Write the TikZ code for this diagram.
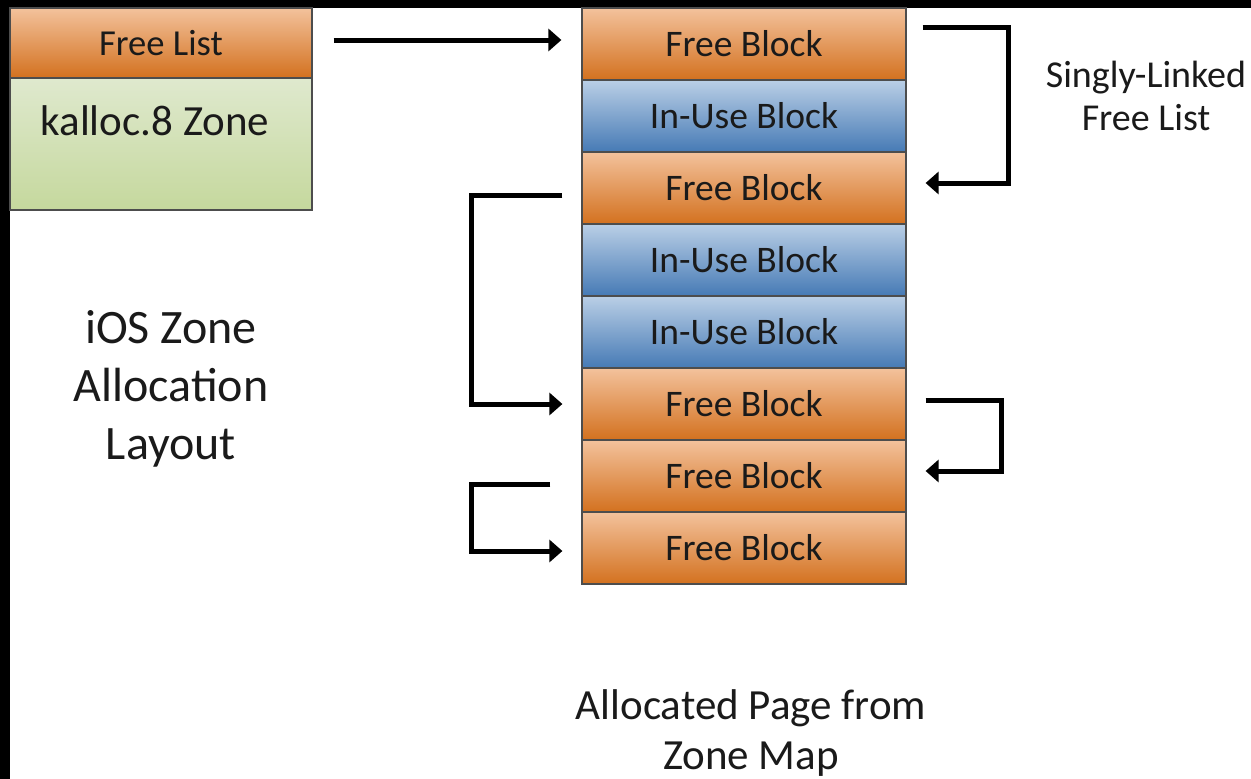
\documentclass[tikz,border=0pt]{standalone}
\usepackage{fontspec}
\setmainfont{Carlito}
\usetikzlibrary{arrows.meta,calc}
\definecolor{orTop}{HTML}{F3C29C}
\definecolor{orBot}{HTML}{D3711F}
\definecolor{blTop}{HTML}{BACFE6}
\definecolor{blBot}{HTML}{467AB5}
\definecolor{grTop}{HTML}{DFE9CE}
\definecolor{grBot}{HTML}{C5D89D}
\definecolor{edge}{HTML}{4D4D4D}
\definecolor{txt}{HTML}{1A1A1A}
\begin{document}
\begin{tikzpicture}[x=1pt,y=-1pt,
  blk/.style={draw=edge, line width=1.2pt, minimum width=324pt, minimum height=72pt, inner sep=0pt, font=\fontsize{37.5}{40}\selectfont, text=txt},
  freeb/.style={blk, top color=orTop, bottom color=orBot},
  useb/.style={blk, top color=blTop, bottom color=blBot},
  arr/.style={line width=5pt, -{Triangle[length=13pt,width=22pt]}},
  lbl/.style={align=center, text=txt, inner sep=0pt}]
\useasboundingbox (0,0) rectangle (1251,779);
\fill[white] (0,0) rectangle (1251,779);
\fill[black] (0,0) rectangle (1251,8);
\fill[black] (0,0) rectangle (10,779);
% left zone box
\node[draw=edge, line width=1.2pt, minimum width=302pt, minimum height=132pt, inner sep=0pt, top color=grTop, bottom color=grBot] (zone) at (161,144) {};
\node[draw=edge, line width=1.2pt, minimum width=302pt, minimum height=70pt, inner sep=0pt, top color=orTop, bottom color=orBot, font=\fontsize{36.6}{40}\selectfont, text=txt] (fl) at (161,43) {Free List};
\node[lbl, font=\fontsize{43}{48}\selectfont] (kz) at (155,121) {kalloc.8 Zone};
% blocks
\node[freeb] (b1) at (744,44) {Free Block};
\node[useb]  (b2) at (744,116) {In-Use Block};
\node[freeb] (b3) at (744,188) {Free Block};
\node[useb]  (b4) at (744,260) {In-Use Block};
\node[useb]  (b5) at (744,332) {In-Use Block};
\node[freeb] (b6) at (744,404) {Free Block};
\node[freeb] (b7) at (744,476) {Free Block};
\node[freeb] (b8) at (744,548) {Free Block};
% labels
\node[lbl, font=\fontsize{48}{58}\selectfont] (ios) at (171,389) {iOS Zone\\Allocation\\Layout};
\node[lbl, font=\fontsize{38}{43}\selectfont] (sl) at (1146,96) {Singly-Linked\\Free List};
\node[lbl, font=\fontsize{43}{50}\selectfont] (ap) at (751,733) {Allocated Page from\\Zone Map};
% arrows
\coordinate (fls) at ([xshift=21pt,yshift=3pt]fl.east);
\draw[arr] (fls) -- ([xshift=-20pt]b1.west |- fls);
\draw[arr] ([xshift=16pt,yshift=17pt]b1.east) -- ++(86,0) |- ([xshift=19pt,yshift=5pt]b3.east);
\draw[arr] ([xshift=-19pt,yshift=-7pt]b3.west) -- ++(-91,0) |- ([xshift=-19pt]b6.west);
\draw[arr] ([xshift=19pt,yshift=4pt]b6.east) -- ++(76,0) |- ([xshift=19pt,yshift=5pt]b7.east);
\draw[arr] ([xshift=-31pt,yshift=-8pt]b7.west) -- ++(-79,0) |- ([xshift=-19pt,yshift=-3pt]b8.west);
\end{tikzpicture}
\end{document}
